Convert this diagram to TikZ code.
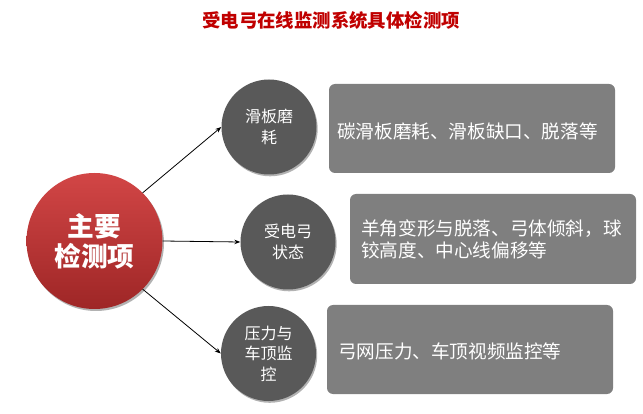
\documentclass[tikz,border=0pt]{standalone}
\usepackage{fontspec}
\setmainfont{Noto Sans CJK SC}
\usetikzlibrary{arrows.meta,shadows}
\definecolor{titlered}{RGB}{192,0,0}
\definecolor{redtop}{RGB}{210,70,70}
\definecolor{redbot}{RGB}{158,38,38}
\definecolor{circgray}{RGB}{89,89,89}
\definecolor{boxgray}{RGB}{127,127,127}
\begin{document}
\begin{tikzpicture}[x=1pt,y=-1pt,
  titletext/.style={text=titlered,font=\fontsize{18.4}{22}\selectfont\bfseries,inner sep=0pt},
  maincirc/.style={circle,minimum size=136pt,inner sep=0pt,top color=redtop,bottom color=redbot,draw=none,
    text=white,align=center,font=\fontsize{26.7}{30}\selectfont\bfseries,
    drop shadow={shadow xshift=1.5pt,shadow yshift=-2pt,opacity=0.3,fill=black}},
  subcirc/.style={circle,minimum size=95pt,inner sep=0pt,fill=circgray,draw=none,
    text=white,align=center,font=\fontsize{16}{20.5}\selectfont,
    drop shadow={shadow xshift=1.2pt,shadow yshift=-1.8pt,opacity=0.3,fill=black}},
  itembox/.style={rectangle,rounded corners=6pt,fill=boxgray,draw=none,inner sep=0pt},
  itemtext/.style={anchor=west,text=white,align=left,inner sep=0pt,font=\fontsize{18.6}{22}\selectfont},
  conn/.style={draw=black,line width=0.8pt,-{Stealth[length=6pt,width=4.5pt]}}
]
\useasboundingbox (0,0) rectangle (643,414);
\node[titletext] (title) at (331,20) {受电弓在线监测系统具体检测项};

\node[maincirc] (m) at (94.5,241) {主要\\检测项};

\node[subcirc] (c1) at (269,127) {滑板磨\\耗};
\node[subcirc] (c2) at (288,242) {受电弓\\状态};
\node[subcirc] (c3) at (268.5,353.5) {压力与\\车顶监\\控};

\node[itembox,minimum width=286pt,minimum height=89pt] (r1) at (472,128.5) {};
\node[itembox,minimum width=286pt,minimum height=90pt] (r2) at (493,239) {};
\node[itembox,minimum width=286pt,minimum height=89pt] (r3) at (470,349.5) {};

\node[itemtext] (t1) at (337,131) {碳滑板磨耗、滑板缺口、脱落等};
\node[itemtext] (t2) at (361,239) {羊角变形与脱落、弓体倾斜，球\\铰高度、中心线偏移等};
\node[itemtext] (t3) at (338,351.5) {弓网压力、车顶视频监控等};

\draw[conn] (m.45) -- (c1.west);
\draw[conn] (m.east) -- (c2.west);
\draw[conn] (m.-45) -- (c3.west);
\end{tikzpicture}
\end{document}
